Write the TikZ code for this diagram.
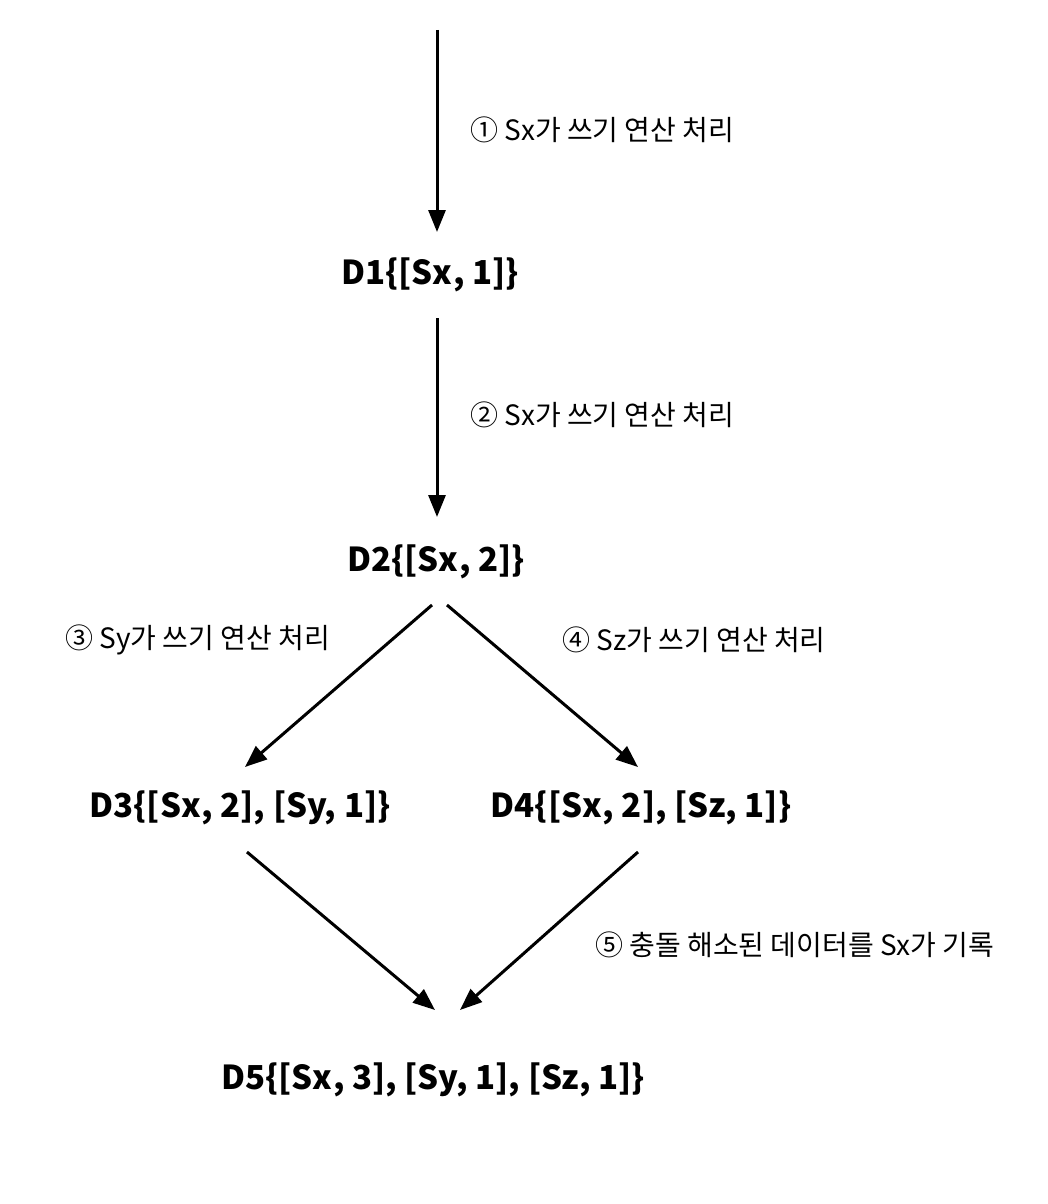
\documentclass[tikz,border=0pt]{standalone}
\usepackage{fontspec}
\setmainfont{Noto Sans CJK KR}
\usetikzlibrary{arrows.meta}
\begin{document}
\begin{tikzpicture}[x=1pt,y=-1pt,
  state/.style={inner sep=0pt,font=\fontsize{33}{38}\selectfont\bfseries},
  lbl/.style={inner sep=0pt,anchor=west,font=\fontsize{28}{32}\selectfont},
  flow/.style={line width=3pt,-{Triangle[length=22pt,width=17pt]}}]
\useasboundingbox (0,0) rectangle (1048,1204);
\node[state] (d1) at (430,275) {D1\{[Sx, 1]\}};
\node[state] (d2) at (436,562) {D2\{[Sx, 2]\}};
\node[state] (d3) at (240,808) {D3\{[Sx, 2], [Sy, 1]\}};
\node[state] (d4) at (641,808) {D4\{[Sx, 2], [Sz, 1]\}};
\node[state] (d5) at (433,1080) {D5\{[Sx, 3], [Sy, 1], [Sz, 1]\}};
\coordinate (top) at (437,30);
\coordinate (a1e) at (437,232);
\coordinate (a2s) at (437,318);
\coordinate (a2e) at (437,517);
\coordinate (a3s) at (432,605);
\coordinate (a3e) at (245,767);
\coordinate (a4s) at (447,605);
\coordinate (a4e) at (638,767);
\coordinate (a5s) at (247,852);
\coordinate (a5e) at (435,1010);
\coordinate (a6s) at (638,852);
\coordinate (a6e) at (460,1010);
\draw[flow] (top) -- (a1e);
\draw[flow] (a2s) -- (a2e);
\draw[flow] (a3s) -- (a3e);
\draw[flow] (a4s) -- (a4e);
\draw[flow] (a5s) -- (a5e);
\draw[flow] (a6s) -- (a6e);
\node[lbl] (l1) at (470,130) {① Sx가 쓰기 연산 처리};
\node[lbl] (l2) at (470,415) {② Sx가 쓰기 연산 처리};
\node[lbl] (l3) at (65,640) {③ Sy가 쓰기 연산 처리};
\node[lbl] (l4) at (562,640) {④ Sz가 쓰기 연산 처리};
\node[lbl] (l5) at (595,945) {⑤ 충돌 해소된 데이터를 Sx가 기록};
\end{tikzpicture}
\end{document}
